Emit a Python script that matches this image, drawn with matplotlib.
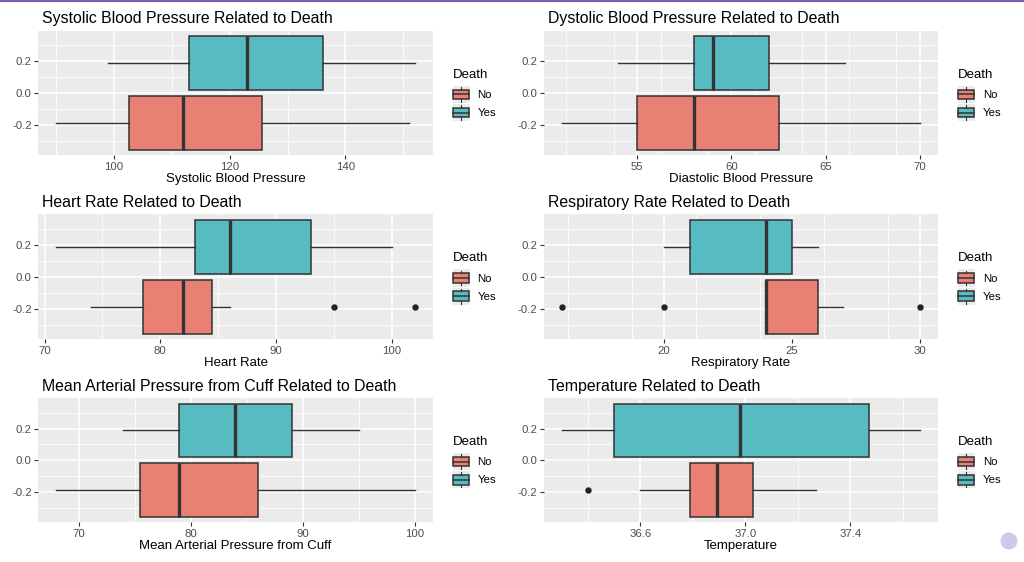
import numpy as np
import matplotlib
matplotlib.use("Agg")
import matplotlib.pyplot as plt
from matplotlib.legend_handler import HandlerBase
from matplotlib.patches import Rectangle, Circle
from matplotlib.lines import Line2D
from matplotlib.ticker import MultipleLocator
from matplotlib.transforms import IdentityTransform

plt.rcParams['font.family'] = ['Liberation Sans', 'DejaVu Sans']

groups = ["No", "Yes"]
colors = {"No": "#E88074", "Yes": "#56BCC2"}

# boxplot stats per variable: (whislo, q1, med, q3, whishi), fliers
titles = ["Systolic Blood Pressure Related to Death",
          "Dystolic Blood Pressure Related to Death",
          "Heart Rate Related to Death",
          "Respiratory Rate Related to Death",
          "Mean Arterial Pressure from Cuff Related to Death",
          "Temperature Related to Death"]
xlabels = ["Systolic Blood Pressure", "Diastolic Blood Pressure", "Heart Rate",
           "Respiratory Rate", "Mean Arterial Pressure from Cuff", "Temperature"]

sbp_no = [90, 102.5, 112, 125.6, 151]
sbp_yes = [99, 113, 123, 136.2, 152]
dbp_no = [51, 55, 58, 62.5, 70]
dbp_yes = [54, 58, 59, 62, 66]
hr_no = [74, 78.5, 82, 84.5, 86]
hr_yes = [71, 83, 86, 93, 100]
rr_no = [24, 24, 24, 26, 27]
rr_yes = [20, 21, 24, 25, 26]
map_no = [68, 75.5, 79, 86, 100]
map_yes = [74, 79, 84, 89, 95]
temp_no = [36.6, 36.79, 36.89, 37.03, 37.27]
temp_yes = [36.3, 36.5, 36.98, 37.47, 37.665]

hr_no_out = [95, 102]
rr_no_out = [16, 20, 30]
temp_no_out = [36.4]

panels = [
    (sbp_no, [], sbp_yes, []),
    (dbp_no, [], dbp_yes, []),
    (hr_no, hr_no_out, hr_yes, []),
    (rr_no, rr_no_out, rr_yes, []),
    (map_no, [], map_yes, []),
    (temp_no, temp_no_out, temp_yes, []),
]
xticks = [[100, 120, 140], [55, 60, 65, 70], [70, 80, 90, 100],
          [20, 25, 30], [70, 80, 90, 100], [36.6, 37.0, 37.4]]
minor_step = [10, 2.5, 5, 2.5, 5, 0.2]
tick_fmt = ["{:.0f}", "{:.0f}", "{:.0f}", "{:.0f}", "{:.0f}", "{:.1f}"]

W, H = 1024, 562
fig = plt.figure(figsize=(W / 100, H / 100), dpi=100)

cols = [(38.3, 432.7), (543.7, 938.0)]
rows = [(30.7, 155.3), (214.3, 339.0), (398.3, 522.3)]
edge = "#333333"


class BoxKey(HandlerBase):
    def create_artists(self, legend, orig, xd, yd, width, height, fontsize, trans):
        s = width
        cx, cy = width / 2 - xd, height / 2 - yd
        bg = Rectangle((cx - s / 2, cy - s / 2), s, s, facecolor="#EBEBEB",
                       edgecolor="none", transform=trans)
        bw, bh = s * 0.92, s * 0.56
        box = Rectangle((cx - bw / 2, cy - bh / 2), bw, bh,
                        facecolor=orig.get_facecolor(), edgecolor=edge, lw=1.1,
                        transform=trans)
        med = Line2D([cx - bw / 2, cx + bw / 2], [cy, cy], color=edge, lw=1.1,
                     transform=trans)
        w1 = Line2D([cx, cx], [cy + bh / 2, cy + s / 2 - 0.8], color=edge, lw=0.8,
                    transform=trans)
        w2 = Line2D([cx, cx], [cy - bh / 2, cy - s / 2 + 0.8], color=edge, lw=0.8,
                    transform=trans)
        return [bg, box, med, w1, w2]


for i, (no, no_out, yes, yes_out) in enumerate(panels):
    c = cols[i % 2]
    r = rows[i // 2]
    ax = fig.add_axes([c[0] / W, 1 - r[1] / H, (c[1] - c[0]) / W, (r[1] - r[0]) / H])
    ax.set_facecolor("#EBEBEB")
    stats = []
    for vals, out, g in [(no, no_out, "No"), (yes, yes_out, "Yes")]:
        stats.append(dict(whislo=vals[0], q1=vals[1], med=vals[2], q3=vals[3],
                          whishi=vals[4], fliers=out, label=g))
    bp = ax.bxp(stats, positions=[-0.1875, 0.1875], widths=0.338,
                orientation="horizontal", showcaps=False, patch_artist=True,
                boxprops=dict(edgecolor=edge, linewidth=1.1),
                whiskerprops=dict(color=edge, linewidth=1.0),
                medianprops=dict(color=edge, linewidth=2.4),
                flierprops=dict(marker="o", markerfacecolor="#222222",
                                markeredgecolor="#222222", markersize=3.6))
    for patch, g in zip(bp["boxes"], groups):
        patch.set_facecolor(colors[g])
    allv = no + no_out + yes + yes_out
    lo, hi = min(allv), max(allv)
    pad = (hi - lo) * 0.05
    ax.set_xlim(lo - pad, hi + pad)
    ax.set_ylim(-0.39, 0.39)
    ax.set_yticks([-0.2, 0.0, 0.2])
    ax.set_yticklabels(["-0.2", "0.0", "0.2"])
    ax.yaxis.set_minor_locator(MultipleLocator(0.2, offset=0.1))
    ax.set_xticks(xticks[i])
    ax.set_xticklabels([tick_fmt[i].format(t) for t in xticks[i]])
    ax.xaxis.set_minor_locator(MultipleLocator(minor_step[i], offset=minor_step[i] / 2
                                               if i in (1, 3) else 0))
    ax.grid(True, which="major", color="white", linewidth=1.1)
    ax.grid(True, which="minor", color="white", linewidth=0.55)
    ax.set_axisbelow(True)
    for sp in ax.spines.values():
        sp.set_visible(False)
    ax.tick_params(which="major", length=2.8, width=0.8, color=edge,
                   labelsize=8.2, labelcolor="#4D4D4D", pad=2)
    ax.tick_params(which="minor", length=0)
    ax.set_xlabel(xlabels[i], fontsize=9.5, color="black", labelpad=1)
    ax.set_title(titles[i], loc="left", fontsize=11.4, color="black", pad=5.5,
                 x=4 / (c[1] - c[0]))
    handles = [Rectangle((0, 0), 1, 1, facecolor=colors[g]) for g in groups]
    leg = ax.legend(handles, groups, title="Death", loc="center left",
                    bbox_to_anchor=(1.03, 0.484), frameon=False, fontsize=8.2,
                    title_fontsize=9.5, handler_map={Rectangle: BoxKey()},
                    handlelength=1.5, handleheight=2.0, handletextpad=0.7,
                    labelspacing=0.05, borderpad=0.2)
    leg._legend_box.align = "left"
    leg._legend_box.sep = 3.5

# slide decorations
fig.add_artist(Line2D([0, 1], [1 - 1 / H, 1 - 1 / H], color="#7B5EA7", lw=1.6,
                      transform=fig.transFigure))
fig.add_artist(Circle((1009, H - 541), 8.5, facecolor="#CBCBEE",
                      edgecolor="none", transform=IdentityTransform()))

fig.savefig("out.png", dpi=100)
